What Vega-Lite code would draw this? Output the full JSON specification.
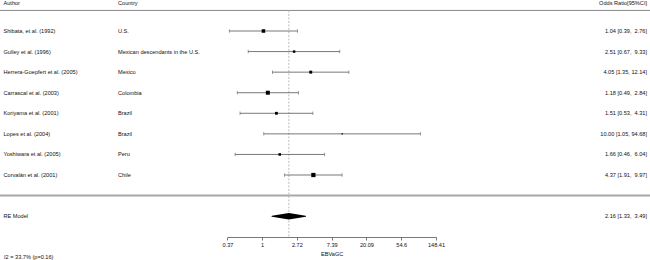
{
  "$schema": "https://vega.github.io/schema/vega-lite/v6.json",
  "width": 650,
  "height": 237,
  "autosize": {"type": "none"},
  "padding": {"left": 0, "top": 0, "right": 0, "bottom": 23},
  "background": "white",
  "config": {
    "view": {"stroke": null},
    "font": "Liberation Sans",
    "text": {"font": "Liberation Sans", "fontSize": 5.6, "color": "#111"}
  },
  "datasets": {
    "rows": [
      {"author": "Shibata, et al. (1992)", "country": "U.S.", "or": 1.04, "lo": 0.39, "hi": 2.76, "weight": 14.8, "ci": "1.04 [0.39,\u00a0 2.76]"},
      {"author": "Gulley et al. (1996)", "country": "Mexican descendants in the U.S.", "or": 2.51, "lo": 0.67, "hi": 9.33, "weight": 9.8, "ci": "2.51 [0.67,\u00a0 9.33]"},
      {"author": "Herrera-Goepfert et al. (2005)", "country": "Mexico", "or": 4.05, "lo": 1.35, "hi": 12.14, "weight": 12.0, "ci": "4.05 [1.35, 12.14]"},
      {"author": "Carrascal et al. (2003)", "country": "Colombia", "or": 1.18, "lo": 0.49, "hi": 2.84, "weight": 16.9, "ci": "1.18 [0.49,\u00a0 2.84]"},
      {"author": "Koriyama et al. (2001)", "country": "Brazil", "or": 1.51, "lo": 0.53, "hi": 4.31, "weight": 11.5, "ci": "1.51 [0.53,\u00a0 4.31]"},
      {"author": "Lopes et al. (2004)", "country": "Brazil", "or": 10.0, "lo": 1.05, "hi": 94.68, "weight": 4.0, "ci": "10.00 [1.05, 94.68]"},
      {"author": "Yoshiwara et al. (2005)", "country": "Peru", "or": 1.66, "lo": 0.46, "hi": 6.04, "weight": 10.2, "ci": "1.66 [0.46,\u00a0 6.04]"},
      {"author": "Corvalán et al. (2001)", "country": "Chile", "or": 4.37, "lo": 1.91, "hi": 9.97, "weight": 18.1, "ci": "4.37 [1.91,\u00a0 9.97]"},
      {"author": "RE Model", "country": "", "or": 2.16, "lo": 1.33, "hi": 3.49, "weight": null, "ci": "2.16 [1.33,\u00a0 3.49]"}
    ]
  },
  "data": {"name": "rows"},
  "resolve": {"scale": {"x": "independent"}},
  "layer": [
    {
      "data": {"values": [{"line": "top"}]},
      "mark": {"type": "rule", "color": "#8a8a8a", "strokeWidth": 1},
      "encoding": {
        "y": {"datum": "_top", "type": "nominal",
          "scale": {"type": "point", "padding": 0, "range": [10.43, 257.3],
            "domain": ["_top", "Shibata, et al. (1992)", "Gulley et al. (1996)", "Herrera-Goepfert et al. (2005)", "Carrascal et al. (2003)", "Koriyama et al. (2001)", "Lopes et al. (2004)", "Yoshiwara et al. (2005)", "Corvalán et al. (2001)", "_sep", "RE Model", "_axis", "_i2"]},
          "axis": null}
      }
    },
    {
      "data": {"values": [{"line": "separator"}]},
      "mark": {"type": "rule", "color": "#a8a8a8", "strokeWidth": 2},
      "encoding": {
        "y": {"datum": "_sep", "type": "nominal", "axis": null}
      }
    },
    {
      "layer": [
        {
          "transform": [{"filter": "datum.author == 'RE Model'"}],
          "mark": {"type": "rule", "color": "#aaaaaa", "strokeWidth": 0.8, "strokeDash": [2, 1.5]},
          "encoding": {
            "x": {"field": "or", "type": "quantitative"},
            "y": {"datum": "_top", "type": "nominal", "axis": null},
            "y2": {"datum": "_axis"}
          }
        },
        {
          "transform": [{"filter": "isValid(datum.weight)"}],
          "mark": {"type": "rule", "color": "#555555", "strokeWidth": 0.8},
          "encoding": {
            "x": {"field": "lo", "type": "quantitative"},
            "x2": {"field": "hi"},
            "y": {"field": "author", "type": "nominal", "axis": null}
          }
        },
        {
          "transform": [{"filter": "isValid(datum.weight)"}, {"fold": ["lo", "hi"], "as": ["end", "val"]}],
          "mark": {"type": "tick", "color": "#555555", "size": 3.5, "thickness": 0.8},
          "encoding": {
            "x": {"field": "val", "type": "quantitative"},
            "y": {"field": "author", "type": "nominal", "axis": null}
          }
        },
        {
          "transform": [{"filter": "isValid(datum.weight)"}],
          "mark": {"type": "point", "shape": "square", "filled": true, "color": "#000000", "opacity": 1, "strokeWidth": 0},
          "encoding": {
            "x": {"field": "or", "type": "quantitative"},
            "y": {"field": "author", "type": "nominal", "axis": null},
            "size": {"field": "weight", "type": "quantitative", "legend": null,
              "scale": {"type": "pow", "exponent": 2, "domain": [4, 18.1], "range": [2, 18]}}
          }
        },
        {
          "transform": [{"filter": "datum.author == 'RE Model'"}, {"fold": ["lo", "or", "hi"], "as": ["pt", "val"]}],
          "mark": {"type": "trail", "color": "#000000"},
          "encoding": {
            "x": {"field": "val", "type": "quantitative"},
            "y": {"field": "author", "type": "nominal", "axis": null},
            "size": {"field": "pt", "type": "nominal", "legend": null,
              "scale": {"type": "ordinal", "domain": ["lo", "or", "hi"], "range": [0, 6.5, 0]}}
          }
        }
      ],
      "resolve": {"scale": {"size": "independent"}},
      "encoding": {
        "x": {
          "scale": {"type": "log", "base": 2.718281828459045, "domain": [0.36787944, 148.4131591], "range": [227.3, 436]},
          "axis": {
            "title": "EBVaGC",
            "values": [0.37, 1, 2.72, 7.39, 20.09, 54.6, 148.41],
            "labelExpr": "'' + datum.value",
            "labelFlush": false,
            "labelOverlap": false,
            "grid": false,
            "domainColor": "#555555",
            "domainWidth": 0.8,
            "tickColor": "#555555",
            "tickWidth": 0.8,
            "tickSize": 3,
            "labelFont": "Liberation Sans",
            "labelFontSize": 5.6,
            "labelColor": "#111111",
            "labelPadding": 2.5,
            "titleFont": "Liberation Sans",
            "titleFontSize": 5.6,
            "titleFontWeight": "normal",
            "titleColor": "#111111",
            "titlePadding": 3
          }
        }
      }
    },
    {
      "transform": [{"fold": ["author", "country"], "as": ["col", "txt"]}, {"filter": "datum.txt != ''"}],
      "mark": {"type": "text", "align": "left", "baseline": "middle"},
      "encoding": {
        "x": {"field": "col", "type": "nominal", "axis": null,
          "scale": {"type": "point", "padding": 0, "domain": ["author", "country"], "range": [3.5, 118]}},
        "y": {"field": "author", "type": "nominal", "axis": null},
        "text": {"field": "txt"}
      }
    },
    {
      "transform": [{"fold": ["ci"], "as": ["col", "txt"]}],
      "mark": {"type": "text", "align": "right", "baseline": "middle"},
      "encoding": {
        "x": {"field": "col", "type": "nominal", "axis": null,
          "scale": {"type": "point", "padding": 0, "domain": ["ci"], "range": [647, 647]}},
        "y": {"field": "author", "type": "nominal", "axis": null},
        "text": {"field": "txt"}
      }
    },
    {
      "data": {"values": [{"col": "author", "txt": "Author"}, {"col": "country", "txt": "Country"}]},
      "mark": {"type": "text", "align": "left", "baseline": "middle", "dy": -7},
      "encoding": {
        "x": {"field": "col", "type": "nominal", "axis": null,
          "scale": {"type": "point", "padding": 0, "domain": ["author", "country"], "range": [3.5, 118]}},
        "y": {"datum": "_top", "type": "nominal", "axis": null},
        "text": {"field": "txt"}
      }
    },
    {
      "data": {"values": [{"col": "ci", "txt": "Odds Ratio[95%CI]"}]},
      "mark": {"type": "text", "align": "right", "baseline": "middle", "dy": -7},
      "encoding": {
        "x": {"field": "col", "type": "nominal", "axis": null,
          "scale": {"type": "point", "padding": 0, "domain": ["ci"], "range": [647, 647]}},
        "y": {"datum": "_top", "type": "nominal", "axis": null},
        "text": {"field": "txt"}
      }
    },
    {
      "data": {"values": [{"col": "author", "txt": "I2 = 33.7% (p=0.16)"}]},
      "mark": {"type": "text", "align": "left", "baseline": "middle"},
      "encoding": {
        "x": {"field": "col", "type": "nominal", "axis": null,
          "scale": {"type": "point", "padding": 0, "domain": ["author", "country"], "range": [4, 118]}},
        "y": {"datum": "_i2", "type": "nominal", "axis": null},
        "text": {"field": "txt"}
      }
    }
  ]
}
